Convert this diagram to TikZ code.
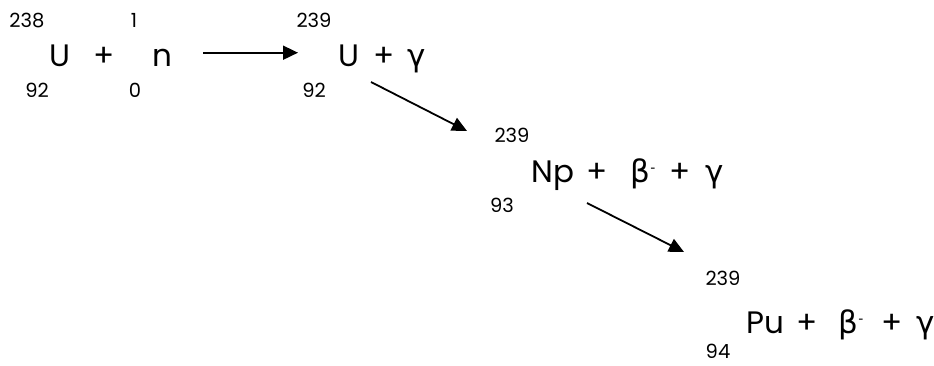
\documentclass[tikz,border=0pt]{standalone}
\usepackage{fontspec}
\setmainfont{Poppins}
\newfontfamily\grk{DejaVu Sans}
\usetikzlibrary{arrows.meta}

\begin{document}
\begin{tikzpicture}[x=1pt,y=-1pt,
  sym/.style={anchor=base,inner sep=0pt,font=\fontsize{31}{33}\selectfont},
  num/.style={anchor=base,inner sep=0pt,font=\fontsize{19.5}{21}\selectfont},
  rx/.style={line width=1.8pt,-{Triangle[length=15pt,width=14pt]}}]
  \useasboundingbox (0,0) rectangle (934,365);
  % U + n
  \path (60,66.7) node[sym] (u0) {U} (104,66.7) node[sym] (p0) {+} (162,66.7) node[sym] (n0) {n}
  (27,27) node[num] (a0) {238} (37,97) node[num] (z0) {92}
  (134,27) node[num] (a1) {1} (135,97) node[num] (z1) {0};
  % U + gamma
  \path (349,66.7) node[sym] (u1) {U} (384,66.7) node[sym] (p1) {+} (417,66.7) node[sym] (g1) {\grk γ}
  (314,27) node[num] (a2) {239} (314,97) node[num] (z2) {92};
  % Np + beta + gamma
  \path (553,182) node[sym] (np) {Np} (597,182) node[sym] (p2) {+} (643,182) node[sym] (b2) {\grk β\raisebox{.55ex}{\fontsize{14}{14}\selectfont -}}
  (680,182) node[sym] (p3) {+} (715,182) node[sym] (g2) {\grk γ}
  (512,142) node[num] (a3) {239} (502,212) node[num] (z3) {93};
  % Pu + beta + gamma
  \path (765,333) node[sym] (pu) {Pu} (807,333) node[sym] (p4) {+} (851,333) node[sym] (b3) {\grk β\raisebox{.55ex}{\fontsize{14}{14}\selectfont -}}
  (892,333) node[sym] (p5) {+} (926,333) node[sym] (g3) {\grk γ}
  (723,285) node[num] (a4) {239} (718,358) node[num] (z4) {94};
  % arrows
  \coordinate (s1) at (203,52.7); \coordinate (e1) at (298,52.7);
  \coordinate (s2) at (371,82); \coordinate (e2) at (467,131);
  \coordinate (s3) at (587,203); \coordinate (e3) at (684,252);
  \draw[rx] (s1) -- (e1);
  \draw[rx] (s2) -- (e2);
  \draw[rx] (s3) -- (e3);
\end{tikzpicture}
\end{document}
